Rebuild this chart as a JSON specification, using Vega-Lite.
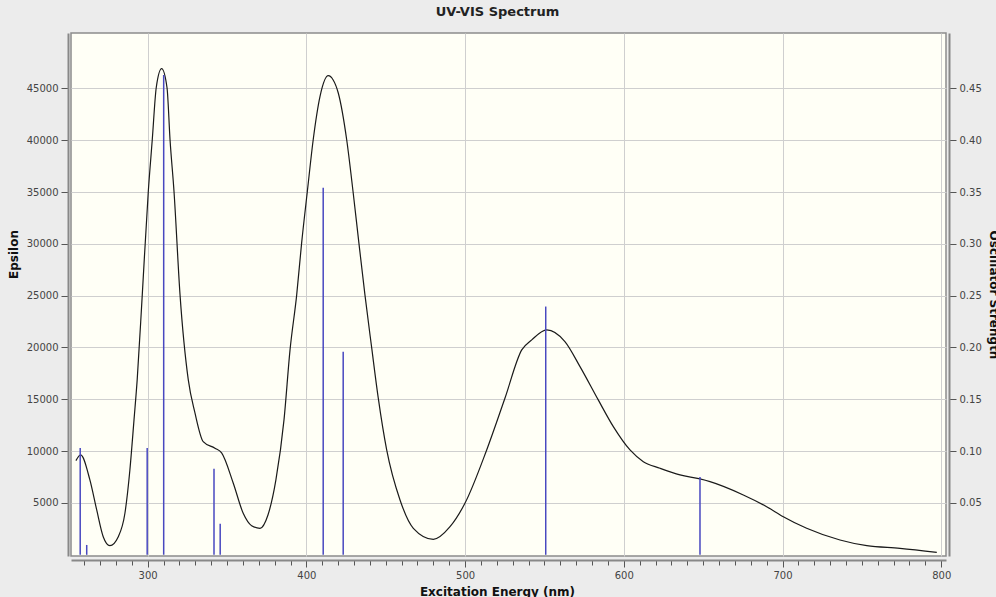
{
  "$schema": "https://vega.github.io/schema/vega-lite/v6.json",
  "width": 875,
  "height": 523,
  "autosize": {"type": "none"},
  "padding": {"left": 71, "top": 33, "right": 50, "bottom": 41},
  "background": "#ececec",
  "title": {"text": "UV-VIS Spectrum", "font": "DejaVu Sans", "fontSize": 13, "fontWeight": "bold", "color": "#222222", "anchor": "middle", "dx": -11, "offset": 14},
  "config": {
    "view": {"fill": "#fffff6", "stroke": "#8c8c8c", "strokeWidth": 1.5},
    "axis": {"labelFont": "DejaVu Sans", "labelFontSize": 10, "labelColor": "#444444", "titleFont": "DejaVu Sans", "titleFontSize": 12, "titleFontWeight": "bold", "titleColor": "#111111", "domainColor": "#888888", "domainWidth": 2, "tickColor": "#555555", "gridColor": "#cfcfcf", "gridWidth": 1}
  },
  "datasets": {
    "curve": [
      {"nm": 254.8, "eps": 9084}, {"nm": 257.8, "eps": 9634}, {"nm": 263.6, "eps": 7220}, {"nm": 267.9, "eps": 4325},
      {"nm": 272.0, "eps": 1747}, {"nm": 276.2, "eps": 878}, {"nm": 281.5, "eps": 1747}, {"nm": 285.7, "eps": 4035},
      {"nm": 288.8, "eps": 8186}, {"nm": 291.4, "eps": 13012}, {"nm": 293.4, "eps": 16873}, {"nm": 296.6, "eps": 25079},
      {"nm": 300.4, "eps": 35050}, {"nm": 302.9, "eps": 40041}, {"nm": 305.4, "eps": 45060}, {"nm": 308.8, "eps": 46894},
      {"nm": 312.2, "eps": 45060}, {"nm": 314.1, "eps": 40041}, {"nm": 316.6, "eps": 35050}, {"nm": 320.4, "eps": 25079},
      {"nm": 325.6, "eps": 16873}, {"nm": 329.8, "eps": 13688}, {"nm": 335.0, "eps": 10918}, {"nm": 342.4, "eps": 10280},
      {"nm": 346.6, "eps": 9827}, {"nm": 353.9, "eps": 6931}, {"nm": 360.2, "eps": 4006}, {"nm": 365.5, "eps": 2809},
      {"nm": 370.8, "eps": 2558}, {"nm": 375.8, "eps": 3842}, {"nm": 380.8, "eps": 7220}, {"nm": 385.9, "eps": 13012},
      {"nm": 389.7, "eps": 19769}, {"nm": 393.9, "eps": 25079}, {"nm": 397.0, "eps": 30069}, {"nm": 400.6, "eps": 35050},
      {"nm": 404.3, "eps": 40041}, {"nm": 408.6, "eps": 44221}, {"nm": 413.8, "eps": 46219}, {"nm": 416.8, "eps": 45832},
      {"nm": 420.1, "eps": 44549}, {"nm": 425.4, "eps": 40041}, {"nm": 429.4, "eps": 35050}, {"nm": 433.1, "eps": 30069},
      {"nm": 436.9, "eps": 25079}, {"nm": 441.1, "eps": 20030}, {"nm": 445.3, "eps": 15107}, {"nm": 450.6, "eps": 10116},
      {"nm": 459.0, "eps": 5290}, {"nm": 467.4, "eps": 2558}, {"nm": 480.0, "eps": 1496}, {"nm": 490.5, "eps": 2713},
      {"nm": 499.9, "eps": 4971}, {"nm": 513.6, "eps": 10116}, {"nm": 525.1, "eps": 15107}, {"nm": 535.7, "eps": 19769},
      {"nm": 542.0, "eps": 20735}, {"nm": 551.4, "eps": 21700}, {"nm": 562.9, "eps": 20571}, {"nm": 572.4, "eps": 18157},
      {"nm": 583.9, "eps": 14943}, {"nm": 593.4, "eps": 12366}, {"nm": 603.9, "eps": 10116}, {"nm": 612.3, "eps": 8987},
      {"nm": 622.8, "eps": 8350}, {"nm": 635.4, "eps": 7703}, {"nm": 648.0, "eps": 7317}, {"nm": 654.3, "eps": 7057},
      {"nm": 675.3, "eps": 5773}, {"nm": 690.0, "eps": 4643}, {"nm": 700.5, "eps": 3678}, {"nm": 715.2, "eps": 2558},
      {"nm": 736.2, "eps": 1429}, {"nm": 753.1, "eps": 878}, {"nm": 774.0, "eps": 627}, {"nm": 797.2, "eps": 241}
    ],
    "sticks": [
      {"nm": 257.5, "f": 0.103}, {"nm": 261.6, "f": 0.0095}, {"nm": 299.7, "f": 0.103}, {"nm": 310.1, "f": 0.463},
      {"nm": 341.8, "f": 0.083}, {"nm": 345.7, "f": 0.03}, {"nm": 410.6, "f": 0.354}, {"nm": 423.2, "f": 0.196},
      {"nm": 550.8, "f": 0.2395}, {"nm": 648.0, "f": 0.075}
    ]
  },
  "encoding": {
    "x": {"field": "nm", "type": "quantitative", "scale": {"domain": [251.7, 803], "nice": false, "zero": false},
      "axis": {"title": "Excitation Energy (nm)", "titleX": 426, "titleY": 26, "titleBaseline": "top", "titleAnchor": null,
        "values": [260,270,280,290,300,310,320,330,340,350,360,370,380,390,400,410,420,430,440,450,460,470,480,490,500,510,520,530,540,550,560,570,580,590,600,610,620,630,640,650,660,670,680,690,700,710,720,730,740,750,760,770,780,790,800],
        "labelExpr": "datum.value % 100 === 0 ? datum.label : ''",
        "gridOpacity": {"condition": {"test": "datum.value % 100 === 0", "value": 1}, "value": 0},
        "tickSize": {"condition": {"test": "datum.value % 100 === 0", "value": 7}, "value": 5},
        "offset": 4, "labelPadding": 3, "labelFlush": false, "labelOverlap": false}}
  },
  "layer": [
    {
      "data": {"name": "curve"},
      "mark": {"type": "line", "color": "#1a1a1a", "strokeWidth": 1.2, "interpolate": "monotone"},
      "encoding": {
        "y": {"field": "eps", "type": "quantitative", "scale": {"domain": [-116, 50340], "nice": false, "zero": false},
          "axis": {"title": "Epsilon", "titleX": -55, "titleY": 221, "titleBaseline": "middle", "titleAngle": 270,
            "values": [5000,10000,15000,20000,25000,30000,35000,40000,45000], "format": "d", "offset": 3, "tickSize": 7, "labelPadding": 3}}
      }
    },
    {
      "data": {"name": "sticks"},
      "mark": {"type": "rule", "color": "#4848c0", "strokeWidth": 1.5},
      "encoding": {
        "y": {"field": "f", "type": "quantitative", "scale": {"domain": [-0.00116, 0.5034], "nice": false, "zero": false},
          "axis": {"orient": "right", "title": "Oscillator Strength", "titleX": 40, "titleBaseline": "alphabetic", "titleAngle": 90, "grid": false,
            "values": [0.05,0.1,0.15,0.2,0.25,0.3,0.35,0.4,0.45], "format": ".2f", "offset": 3, "tickSize": 7, "labelPadding": 3}},
        "y2": {"datum": 0}
      }
    }
  ],
  "resolve": {"scale": {"y": "independent"}, "axis": {"y": "independent"}}
}
